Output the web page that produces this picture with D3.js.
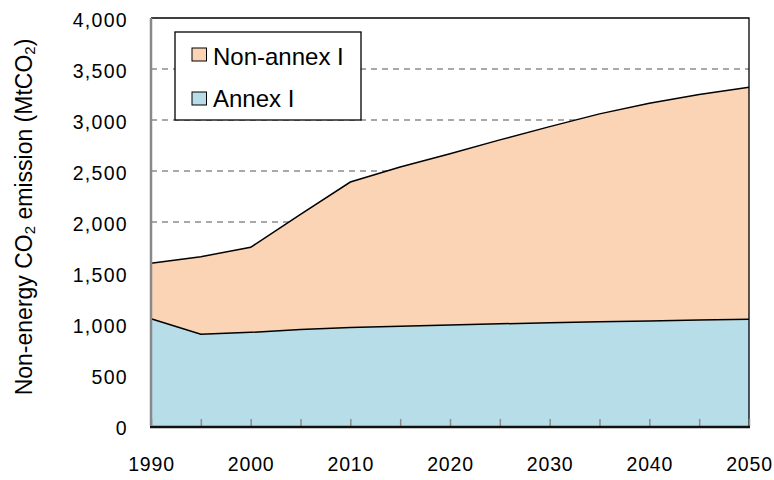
<!DOCTYPE html>
<html><head><meta charset="utf-8">
<script src="https://cdn.jsdelivr.net/npm/d3@7"></script>
<style>body{margin:0;background:#fff}svg{display:block}text{font-family:"Liberation Sans",Arial,sans-serif;fill:#000}</style>
</head><body><svg id="c" width="774" height="480"></svg>
<script>
const years = [1990,1995,2000,2005,2010,2015,2020,2025,2030,2035,2040,2045,2050];
const annexI = [1052,899,918,945,965,978,990,1002,1012,1022,1030,1038,1046];
const nonAnnexI = [543,761,834,1130,1427,1562,1680,1803,1923,2038,2135,2212,2274];
const seriesNames = ["Annex I","Non-annex I"];
const seriesColors = ["#b7dde8","#fad4b4"];
const yTicks = [0,500,1000,1500,2000,2500,3000,3500,4000];
const xLabels = [1990,2000,2010,2020,2030,2040,2050];

const svg = d3.select("#c");
const L=151,R=749,T=18,B=426;
const x = d3.scaleLinear().domain([1990,2050]).range([L,R]);
const y = d3.scaleLinear().domain([0,4000]).range([B,T]);

const rows = years.map((yr,i)=>({year:yr,"Annex I":annexI[i],"Non-annex I":nonAnnexI[i]}));
const stacked = d3.stack().keys(seriesNames)(rows);

// grid
svg.append("g").selectAll("line").data(yTicks.filter(d=>d>0&&d<4000)).join("line")
  .attr("x1",L).attr("x2",R).attr("y1",d=>y(d)).attr("y2",d=>y(d))
  .attr("stroke","#8c8c8c").attr("stroke-width",1.3).attr("stroke-dasharray","6,5");

const area = d3.area().x(d=>x(d.data.year)).y0(d=>y(d[0])).y1(d=>y(d[1]));
const line = d3.line().x(d=>x(d.data.year)).y(d=>y(d[1]));
svg.append("g").selectAll("path").data(stacked).join("path")
  .attr("d",area).attr("fill",(d,i)=>seriesColors[i]);
svg.append("g").selectAll("path").data(stacked).join("path")
  .attr("d",line).attr("fill","none").attr("stroke","#000").attr("stroke-width",1.5);

// frame: top and right
svg.append("path").attr("d",`M${L},${T}H${R}V${B}`).attr("fill","none").attr("stroke","#000").attr("stroke-width",1.3);

// x axis
const xAxis = d3.axisBottom(x).tickValues(d3.range(1990,2051,5)).tickSize(-7).tickFormat("");
const gx = svg.append("g").attr("transform",`translate(0,${B})`).call(xAxis);
gx.select(".domain").remove();
gx.selectAll(".tick line").attr("stroke","#8c8c8c").attr("stroke-width",1.5);
svg.append("line").attr("x1",L-1).attr("x2",R+1).attr("y1",B+1).attr("y2",B+1).attr("stroke","#111").attr("stroke-width",2.5);
svg.append("line").attr("x1",L).attr("x2",L).attr("y1",T).attr("y2",B).attr("stroke","#888").attr("stroke-width",2.5);

svg.append("g").selectAll("text").data(xLabels).join("text")
  .attr("x",d=>x(d)+0.5).attr("y",471).attr("text-anchor","middle").attr("font-size",19.5)
  .attr("letter-spacing",0.8).text(d=>d);

const fmt = d3.format(",");
svg.append("g").selectAll("text").data(yTicks).join("text")
  .attr("x",128).attr("y",d=>y(d)+9).attr("text-anchor","end").attr("font-size",19.5)
  .attr("letter-spacing",1.3).text(d=>fmt(d));

// y label
const yl = svg.append("text").attr("transform","translate(32,217) rotate(-90)").attr("text-anchor","middle").attr("font-size",23);
yl.append("tspan").text("Non-energy CO");
yl.append("tspan").attr("font-size",15).attr("dy",3).text("2");
yl.append("tspan").attr("dy",-3).text(" emission (MtCO");
yl.append("tspan").attr("font-size",15).attr("dy",3).text("2");
yl.append("tspan").attr("dy",-3).text(")");

// legend
const lg = svg.append("g");
lg.append("rect").attr("x",175).attr("y",32).attr("width",186).attr("height",88).attr("fill","#fff").attr("stroke","#000").attr("stroke-width",1.3);
const legItems = [seriesNames[1],seriesNames[0]];
const legCols = [seriesColors[1],seriesColors[0]];
legItems.forEach((n,i)=>{
  const yy = 48+i*44;
  lg.append("rect").attr("x",192).attr("y",yy).attr("width",14.5).attr("height",13).attr("fill",legCols[i]).attr("stroke","#000").attr("stroke-width",1);
  lg.append("text").attr("x",213).attr("y",65+i*42).attr("font-size",24).text(n);
});
</script></body></html>
